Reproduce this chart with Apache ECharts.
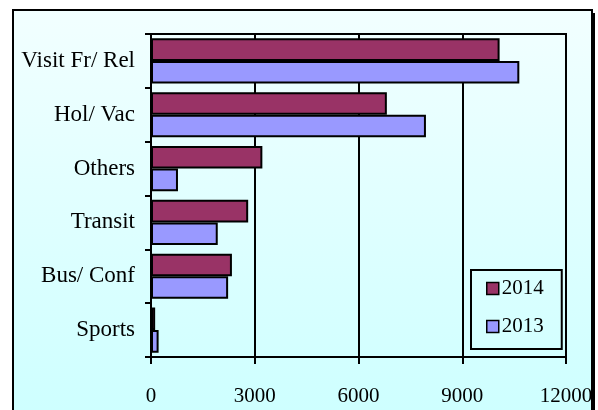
<!DOCTYPE html>
<html>
<head>
<meta charset="utf-8">
<script src="https://cdn.jsdelivr.net/npm/echarts@6/dist/echarts.min.js"></script>
<style>
html,body{margin:0;padding:0;background:#ffffff;}
#main{width:598px;height:410px;}
</style>
</head>
<body>
<div id="main"></div>
<script>
var categories = ['Visit Fr/ Rel', 'Hol/ Vac', 'Others', 'Transit', 'Bus/ Conf', 'Sports'];
var values2014 = [10080, 6820, 3220, 2810, 2340, 120];
var values2013 = [10650, 7950, 780, 1930, 2230, 220];
var xTicks = [0, 3000, 6000, 9000, 12000];

var FONT = 'Liberation Serif';
var chart = echarts.init(document.getElementById('main'));
chart.setOption({
  animation: false,
  backgroundColor: '#ffffff',
  graphic: [
    { type: 'rect', z: -20, silent: true, shape: { x: 16, y: 13, width: 579, height: 420 }, style: { fill: '#000000' } },
    { type: 'rect', z: -10, silent: true, shape: { x: 13, y: 10, width: 579, height: 420 },
      style: { fill: { type: 'linear', x: 0, y: 0, x2: 0, y2: 1, colorStops: [
        { offset: 0, color: '#f2ffff' }, { offset: 1, color: '#ccffff' }] },
        stroke: '#000000', lineWidth: 2 } }
  ],
  grid: { left: 151, top: 34, right: 32, bottom: 53, show: true, borderColor: '#000', borderWidth: 2, backgroundColor: 'transparent' },
  legend: {
    orient: 'vertical', left: 471, top: 270,
    padding: [8, 18, 12, 15], itemGap: 17,
    itemWidth: 12, itemHeight: 12, icon: 'rect',
    borderColor: '#000', borderWidth: 2, backgroundColor: 'transparent',
    itemStyle: { borderColor: '#000', borderWidth: 1.5 },
    textStyle: { fontFamily: FONT, fontSize: 21, color: '#000', padding: [0, 0, 0, -2] },
    data: ['2014', '2013']
  },
  xAxis: {
    type: 'value', min: xTicks[0], max: xTicks[xTicks.length - 1], interval: xTicks[1] - xTicks[0],
    axisLine: { show: true, lineStyle: { color: '#000', width: 2 } },
    axisTick: { show: true, length: 7, lineStyle: { color: '#000', width: 2 } },
    splitLine: { show: true, lineStyle: { color: '#000', width: 2 } },
    axisLabel: { fontFamily: FONT, fontSize: 21, color: '#000', margin: 29,
      formatter: function (v) { return String(v); } }
  },
  yAxis: {
    type: 'category', inverse: true, data: categories,
    axisLine: { show: true, lineStyle: { color: '#000', width: 2 } },
    axisTick: { show: true, length: 6, lineStyle: { color: '#000', width: 2 } },
    axisLabel: { fontFamily: FONT, fontSize: 23, color: '#000', margin: 16 }
  },
  series: [
    { name: '2014', type: 'bar', data: values2014, barGap: '0%', barCategoryGap: '16%',
      itemStyle: { color: '#993366', borderColor: '#000', borderWidth: 2 } },
    { name: '2013', type: 'bar', data: values2013, barGap: '0%', barCategoryGap: '16%',
      itemStyle: { color: '#9999ff', borderColor: '#000', borderWidth: 2 } }
  ]
});
</script>
</body>
</html>
